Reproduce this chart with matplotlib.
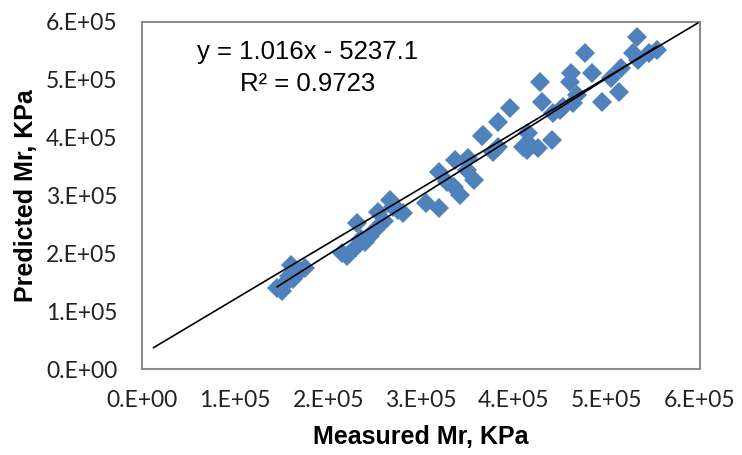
import numpy as np
import matplotlib.pyplot as plt
from matplotlib.ticker import FuncFormatter

# measured / predicted resilient modulus (KPa)
measured = [145e3, 150e3, 152e3, 155e3, 158e3, 160e3, 162e3, 165e3, 170e3, 175e3,
            215e3, 220e3, 230e3, 231e3, 235e3, 240e3, 245e3, 250e3, 254e3, 260e3,
            267e3, 270e3, 275e3, 280e3,
            305e3, 319e3, 328e3, 335e3, 342e3, 319e3, 337e3, 349e3, 351e3, 357e3,
            366e3, 377e3, 383e3, 410e3,
            367e3, 383e3, 396e3, 414e3, 415e3, 417e3, 426e3, 428e3, 430e3, 441e3,
            442e3, 453e3, 460e3, 464e3,
            450e3, 461e3, 468e3, 477e3, 484e3, 495e3, 504e3, 513e3, 515e3, 528e3,
            533e3, 534e3, 545e3, 554e3]
predicted = [140e3, 135e3, 145e3, 150e3, 160e3, 180e3, 155e3, 165e3, 170e3, 175e3,
             200e3, 195e3, 210e3, 252e3, 225e3, 220e3, 230e3, 240e3, 271e3, 255e3,
             292e3, 280e3, 275e3, 270e3,
             287e3, 278e3, 323e3, 315e3, 301e3, 341e3, 361e3, 344e3, 365e3, 327e3,
             402e3, 375e3, 384e3, 384e3,
             405e3, 427e3, 451e3, 379e3, 408e3, 387e3, 382e3, 496e3, 462e3, 396e3,
             443e3, 453e3, 496e3, 460e3,
             448e3, 512e3, 474e3, 546e3, 512e3, 462e3, 503e3, 479e3, 520e3, 546e3,
             574e3, 534e3, 546e3, 552e3]

# fitted trend line y = 1.016x - 5237.1
slope = 1.016
intercept = -5237.1
r2 = 0.9723

# second reference line drawn in the chart (end points)
ref_x = [12e3, 598e3]
ref_y = [37e3, 598e3]

ticks = [0, 1e5, 2e5, 3e5, 4e5, 5e5, 6e5]

fig = plt.figure(figsize=(7.42, 4.55), dpi=100)
ax = fig.add_axes([0.192, 0.189, 0.751, 0.763])

ax.plot(measured, predicted, linestyle='none', marker='D', markersize=10,
        color='#4F81BD', markeredgewidth=0, zorder=2)

xs = np.array([min(measured), max(measured)])
ax.plot(xs, slope * xs + intercept, color='black', linewidth=1.2, zorder=3)
ax.plot(ref_x, ref_y, color='black', linewidth=1.2, zorder=3)

ax.set_xlim(0, 6e5)
ax.set_ylim(0, 6e5)
ax.set_xticks(ticks)
ax.set_yticks(ticks)

fmt = FuncFormatter(lambda v, p: '0.E+00' if v == 0 else '%d.E+05' % round(v / 1e5))
ax.xaxis.set_major_formatter(fmt)
ax.yaxis.set_major_formatter(fmt)
ax.tick_params(length=0, labelsize=16.5)
ax.tick_params(axis='y', pad=18)
ax.tick_params(axis='x', pad=15)
for lab in ax.get_xticklabels() + ax.get_yticklabels():
    lab.set_fontfamily('Lato')
    lab.set_color('#222222')

for s in ax.spines.values():
    s.set_color('#8C8C8C')
    s.set_linewidth(1.5)

ax.set_xlabel('Measured Mr, KPa', fontsize=18, fontweight='bold',
              family='Liberation Sans')
ax.set_ylabel('Predicted Mr, KPa', fontsize=18, fontweight='bold',
              family='Liberation Sans')
ax.xaxis.set_label_coords(0.5, -0.16)
ax.yaxis.set_label_coords(-0.187, 0.5)

ax.text(178e3, 548e3, 'y = %.3fx - %.1f' % (slope, -intercept), ha='center', va='center',
        fontsize=18.5, family='Liberation Sans')
ax.text(178e3, 493e3, 'R² = %.4f' % r2, ha='center', va='center',
        fontsize=18.5, family='Liberation Sans')

plt.savefig('out.png', dpi=100)
